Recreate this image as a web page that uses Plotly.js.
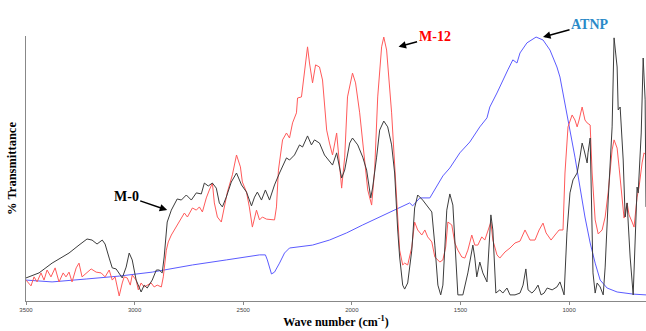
<!DOCTYPE html>
<html>
<head>
<meta charset="utf-8">
<script src="https://cdn.plot.ly/plotly-3.0.1.min.js"></script>
<style>html,body{margin:0;padding:0;background:#fff;}#chart{width:646px;height:331px;}</style>
</head>
<body>
<div id="chart"></div>
<script>
// M-0 (black)
const m0Wn = [3500,3440,3380,3302,3256,3219,3196,3173,3149,3136,3117,3103,3085,3071,3057,3039,3025,3011,2993,2970,2956,2942,2919,2900,2887,2873,2864,2850,2831,2804,2785,2762,2739,2716,2693,2679,2661,2642,2624,2610,2596,2578,2555,2531,2508,2485,2462,2448,2435,2416,2398,2379,2356,2333,2301,2287,2264,2241,2227,2204,2186,2172,2149,2126,2103,2089,2070,2056,2047,2033,2010,1997,1973,1950,1932,1913,1904,1886,1872,1853,1835,1817,1803,1789,1780,1766,1757,1743,1724,1711,1697,1674,1651,1632,1618,1604,1591,1581,1563,1549,1535,1521,1512,1489,1466,1443,1434,1425,1411,1397,1378,1360,1351,1337,1319,1305,1286,1272,1249,1226,1212,1199,1189,1171,1157,1143,1129,1115,1101,1078,1056,1042,1033,1023,1010,996,982,963,950,940,931,917,913,903,890,880,871,857,843,834,820,802,793,779,774,765,751,742,733,728,719,705,696,687,682,668,659,650,646];
const m0T = [8.7,10.6,14.3,18.1,21.1,23.4,23.0,21.5,23.0,21.5,16.2,12.5,12.1,10.6,8.7,12.8,18.1,15.5,7.9,3.4,6.0,4.9,7.9,11.7,11.7,10.6,16.6,29.8,34.3,38.5,38.1,40.0,38.1,40.8,40.4,44.5,43.4,44.5,42.6,37.0,35.5,39.2,44.9,48.3,43.8,41.1,35.9,39.2,41.1,38.1,41.9,38.1,43.8,48.3,54.0,53.2,55.1,58.9,58.1,62.3,58.9,60.8,59.6,55.1,52.5,51.3,55.9,49.4,46.4,49.4,59.6,61.5,58.9,54.3,49.4,38.9,43.0,54.3,64.5,67.9,65.7,58.9,48.3,26.8,16.6,6.0,4.5,6.8,19.2,35.1,40.0,38.1,35.5,33.6,21.1,6.0,2.3,6.0,34.3,40.4,36.2,12.8,2.3,2.3,10.6,21.1,16.2,9.1,14.7,10.6,7.2,32.5,26.8,3.0,4.2,3.0,4.9,2.3,2.3,3.0,6.0,12.1,4.2,3.0,4.2,6.0,2.3,3.0,4.9,4.2,5.3,7.2,4.9,2.3,25.7,40.8,45.7,48.3,54.3,59.6,57.0,52.1,55.9,61.5,10.6,3.0,6.8,5.3,2.3,12.8,38.1,65.7,99.3,88.3,72.1,73.2,53.2,31.7,37.0,27.9,16.6,2.3,25.7,43.0,40.8,63.4,91.7,75.9,35.5];

// M-12 (red)
const m12Wn = [3500,3477,3463,3449,3431,3417,3403,3385,3366,3348,3329,3316,3302,3288,3269,3256,3242,3223,3200,3177,3154,3136,3117,3103,3090,3080,3071,3057,3048,3034,3020,3011,2993,2983,2970,2956,2942,2924,2910,2896,2877,2868,2854,2845,2831,2808,2785,2771,2757,2734,2716,2702,2688,2670,2656,2642,2633,2619,2601,2587,2573,2550,2531,2513,2504,2485,2472,2458,2439,2425,2412,2393,2370,2356,2347,2338,2319,2301,2287,2273,2255,2250,2232,2218,2204,2195,2181,2167,2149,2135,2116,2103,2089,2070,2066,2047,2033,2020,1997,1983,1964,1941,1927,1909,1895,1881,1863,1853,1840,1817,1803,1789,1780,1766,1757,1743,1724,1711,1697,1678,1664,1651,1632,1618,1595,1581,1568,1558,1540,1526,1512,1494,1480,1466,1448,1434,1420,1402,1388,1374,1360,1351,1332,1319,1295,1272,1249,1226,1203,1180,1157,1138,1120,1106,1083,1065,1046,1028,1019,1005,986,973,963,954,940,927,917,903,894,880,866,848,834,820,802,793,779,770,756,747,733,724,710,701,687,678,664,655,646];
const m12T = [7.9,5.7,9.1,7.2,10.6,7.9,11.7,9.1,12.5,7.2,10.6,9.1,10.9,7.2,12.5,14.3,9.1,10.6,12.1,10.9,10.6,9.1,11.7,7.9,9.1,5.3,1.9,6.8,9.1,8.7,6.0,9.8,7.9,4.2,6.8,5.3,6.0,6.8,5.3,6.0,5.3,9.1,19.2,22.3,24.9,27.9,31.3,33.2,31.7,35.1,34.3,35.5,33.6,38.9,41.9,44.5,37.0,31.7,29.8,35.5,41.1,47.6,55.1,50.6,44.9,41.1,35.5,27.9,34.3,30.6,31.7,30.9,30.6,30.6,35.5,49.4,60.8,63.4,61.5,67.2,71.0,76.6,77.0,87.2,95.9,89.8,82.3,89.1,88.3,83.4,64.5,59.6,55.1,63.4,59.6,42.6,54.3,77.0,86.0,82.3,71.0,54.3,41.9,36.2,49.4,77.0,95.9,99.6,94.7,71.0,52.1,29.4,19.2,13.6,14.3,13.6,20.4,29.8,26.8,24.9,26.8,24.2,22.3,16.6,14.7,15.5,20.4,29.8,28.7,21.9,19.2,16.6,16.2,19.2,24.9,21.1,21.1,24.2,23.0,26.4,29.8,23.0,17.4,16.2,18.5,20.0,21.9,22.6,26.8,23.0,23.0,26.8,29.4,25.7,23.0,24.9,26.8,26.8,48.3,65.7,70.2,68.3,65.7,68.3,73.2,68.3,67.2,66.4,48.3,30.6,25.3,26.8,31.7,41.1,57.0,60.8,57.7,50.6,38.1,31.3,37.0,32.5,29.8,27.9,39.2,43.0,52.1,55.9,55.1];

// ATNP (blue)
const atnpWn = [3500,3380,3223,3071,2919,2734,2578,2425,2398,2389,2370,2356,2333,2310,2287,2181,2103,2024,1950,1872,1826,1780,1734,1720,1687,1641,1609,1581,1549,1526,1503,1457,1411,1378,1365,1332,1305,1282,1259,1240,1226,1194,1152,1120,1088,1056,1042,1019,996,973,950,927,903,880,857,825,779,705,646];
const atnpT = [7.9,7.2,8.3,9.4,10.9,13.6,15.5,17.4,17.4,15.5,10.2,10.9,14.3,18.1,20.0,21.1,23.0,25.7,28.7,31.7,33.6,35.5,37.0,35.9,38.9,38.9,43.4,47.2,50.2,53.2,55.9,60.0,65.7,69.1,73.2,78.5,83.4,87.2,91.0,89.8,93.6,97.4,99.6,98.5,94.7,88.3,84.5,74.7,64.5,54.3,43.0,31.7,21.9,14.3,7.9,4.9,3.4,2.6,2.3];

const xTicks = [3500, 3000, 2500, 2000, 1500, 1000];
const xTickLabels = ['3500', '3000', '2500', '2000', '1500', '1000'];

const serif = '"Liberation Serif", "Times New Roman", serif';

const traces = [
  {x: atnpWn, y: atnpT, mode: 'lines', name: 'ATNP', line: {color: '#5b5bff', width: 1}},
  {x: m12Wn, y: m12T, mode: 'lines', name: 'M-12', line: {color: '#ff5a5a', width: 1}},
  {x: m0Wn, y: m0T, mode: 'lines', name: 'M-0', line: {color: '#3c3c3c', width: 1}}
];

const layout = {
  width: 646, height: 331,
  margin: {l: 26, r: 0, t: 36, b: 30},
  paper_bgcolor: '#ffffff', plot_bgcolor: '#ffffff',
  showlegend: false,
  xaxis: {
    range: [3500, 646], autorange: false,
    tickvals: xTicks, ticktext: xTickLabels,
    tickfont: {family: 'Liberation Sans, Arial, sans-serif', size: 6, color: '#444'},
    ticks: 'outside', ticklen: 3, tickcolor: '#888',
    showline: true, linecolor: '#888', linewidth: 1,
    showgrid: false, zeroline: false,
    title: {text: '<b>Wave number (cm<sup>-1</sup>)</b>', font: {family: serif, size: 12, color: '#000'}, standoff: 5}
  },
  yaxis: {
    range: [0, 100], autorange: false,
    showticklabels: false, ticks: '',
    showline: true, linecolor: '#888', linewidth: 1,
    showgrid: false, zeroline: false,
    title: {text: '<b>% Transmittance</b>', font: {family: serif, size: 12.5, color: '#000'}, standoff: 5}
  },
  annotations: [
    {x: 2850, y: 34.3, xref: 'x', yref: 'y', text: '<b>M-0</b>', showarrow: true,
     ax: -41, ay: -14, arrowhead: 2, arrowsize: 1, arrowwidth: 1.5, arrowcolor: '#000',
     font: {family: serif, size: 14, color: '#000'}},
    {x: 1785, y: 95.9, xref: 'x', yref: 'y', text: '<b>M-12</b>', showarrow: true,
     ax: 36, ay: -10, arrowhead: 2, arrowsize: 1, arrowwidth: 1.5, arrowcolor: '#000',
     font: {family: serif, size: 14, color: '#ff0000'}},
    {x: 1120, y: 99.6, xref: 'x', yref: 'y', text: '<b>ATNP</b>', showarrow: true,
     ax: 47, ay: -13, arrowhead: 2, arrowsize: 1, arrowwidth: 1.5, arrowcolor: '#000',
     font: {family: serif, size: 14, color: '#2a8ac8'}}
  ]
};

Plotly.newPlot('chart', traces, layout, {displayModeBar: false, staticPlot: true});
</script>
</body>
</html>
